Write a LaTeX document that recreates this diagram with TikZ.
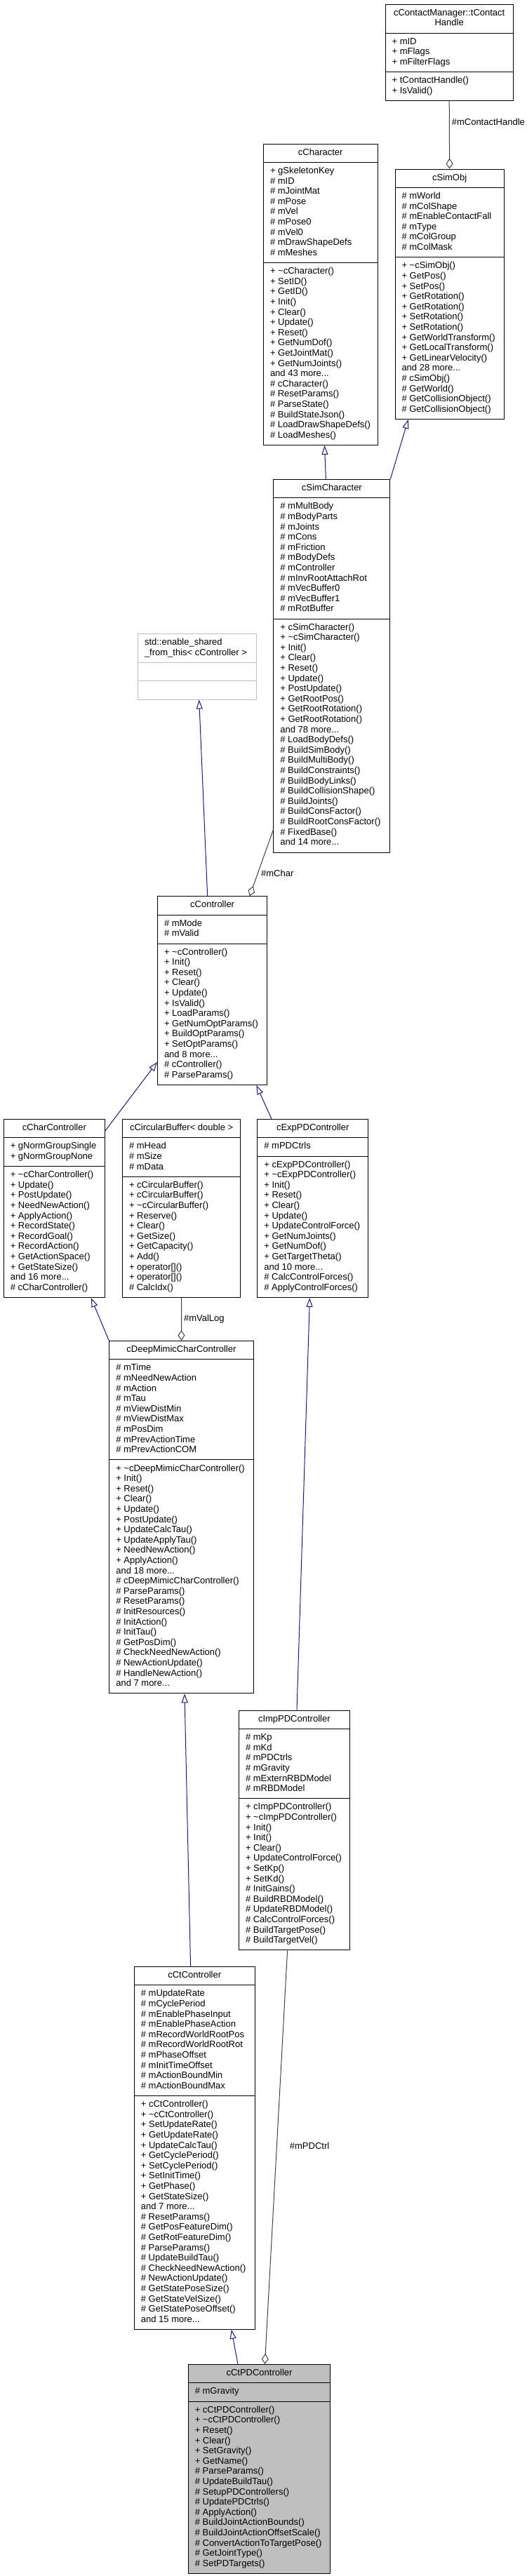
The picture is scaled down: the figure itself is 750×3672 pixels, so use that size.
\documentclass[tikz,border=0pt]{standalone}
\usepackage{fontspec}
\setmainfont{Liberation Sans}
\usetikzlibrary{arrows.meta}
\usetikzlibrary{shapes.multipart}

\definecolor{edgeblue}{HTML}{191970}
\definecolor{edgegrey}{HTML}{404040}
\definecolor{nodegrey}{HTML}{BFBFBF}
\newcommand{\tld}{\textasciitilde}

\begin{document}
\begin{tikzpicture}[x=1pt,y=-1pt,
  cls/.style={draw=black,fill=white,line width=1pt,rectangle split,rectangle split parts=3,
    rectangle split part align={center,left,left},
    anchor=north west,align=left,inner xsep=9.5pt,inner ysep=5.35pt,
    font=\fontsize{13}{14.6}\selectfont},
  isa/.style={draw=edgeblue,line width=1pt,-{Triangle[open,length=13pt,width=9pt]}},
  hasa/.style={draw=edgegrey,line width=1pt,-{Diamond[open,length=15pt,width=10pt]}},
  lbl/.style={anchor=west,inner sep=2pt,font=\fontsize{13}{14.6}\selectfont}]

\useasboundingbox (0,0) rectangle (750,3672);

\node[cls,minimum width=182.2pt] (handle) at (548.6,5.7)
  {\begin{tabular}{@{}c@{}}cContactManager::tContact\\Handle\end{tabular}
   \nodepart{two}\strut + mID\\+ mFlags\\+ mFilterFlags\strut
   \nodepart{three}\strut + tContactHandle()\\+ IsValid()\strut};

\node[cls,minimum width=162.5pt] (character) at (375,204.7)
  {\strut cCharacter\strut
   \nodepart{two}\strut + gSkeletonKey\\\# mID\\\# mJointMat\\\# mPose\\\# mVel\\\# mPose0\\\# mVel0\\\# mDrawShapeDefs\\\# mMeshes\strut
   \nodepart{three}\strut + \tld cCharacter()\\+ SetID()\\+ GetID()\\+ Init()\\+ Clear()\\+ Update()\\+ Reset()\\+ GetNumDof()\\+ GetJointMat()\\+ GetNumJoints()\\and 43 more...\\\# cCharacter()\\\# ResetParams()\\\# ParseState()\\\# BuildStateJson()\\\# LoadDrawShapeDefs()\\\# LoadMeshes()\strut};

\node[cls,minimum width=155.3pt] (simobj) at (562.5,240.7)
  {\strut cSimObj\strut
   \nodepart{two}\strut\# mWorld\\\# mColShape\\\# mEnableContactFall\\\# mType\\\# mColGroup\\\# mColMask\strut
   \nodepart{three}\strut + \tld cSimObj()\\+ GetPos()\\+ SetPos()\\+ GetRotation()\\+ GetRotation()\\+ SetRotation()\\+ SetRotation()\\+ GetWorldTransform()\\+ GetLocalTransform()\\+ GetLinearVelocity()\\and 28 more...\\\# cSimObj()\\\# GetWorld()\\\# GetCollisionObject()\\\# GetCollisionObject()\strut};

\node[cls,minimum width=165.9pt] (simchar) at (389.4,683)
  {\strut cSimCharacter\strut
   \nodepart{two}\strut\# mMultBody\\\# mBodyParts\\\# mJoints\\\# mCons\\\# mFriction\\\# mBodyDefs\\\# mController\\\# mInvRootAttachRot\\\# mVecBuffer0\\\# mVecBuffer1\\\# mRotBuffer\strut
   \nodepart{three}\strut + cSimCharacter()\\+ \tld cSimCharacter()\\+ Init()\\+ Clear()\\+ Reset()\\+ Update()\\+ PostUpdate()\\+ GetRootPos()\\+ GetRootRotation()\\+ GetRootRotation()\\and 78 more...\\\# LoadBodyDefs()\\\# BuildSimBody()\\\# BuildMultiBody()\\\# BuildConstraints()\\\# BuildBodyLinks()\\\# BuildCollisionShape()\\\# BuildJoints()\\\# BuildConsFactor()\\\# BuildRootConsFactor()\\\# FixedBase()\\and 14 more...\strut};

\node[cls,draw=nodegrey,rectangle split part align={left,left,left},minimum width=169.4pt] (enable) at (196,903)
  {\strut std::enable\_shared\\\_from\_this< cController >\strut
   \nodepart{two}\strut
   \nodepart{three}\strut};

\node[cls,minimum width=156.3pt] (controller) at (224,1277.3)
  {\strut cController\strut
   \nodepart{two}\strut\# mMode\\\# mValid\strut
   \nodepart{three}\strut + \tld cController()\\+ Init()\\+ Reset()\\+ Clear()\\+ Update()\\+ IsValid()\\+ LoadParams()\\+ GetNumOptParams()\\+ BuildOptParams()\\+ SetOptParams()\\and 8 more...\\\# cController()\\\# ParseParams()\strut};

\node[cls,minimum width=144.2pt] (charctrl) at (4.8,1595)
  {\strut cCharController\strut
   \nodepart{two}\strut + gNormGroupSingle\\+ gNormGroupNone\strut
   \nodepart{three}\strut + \tld cCharController()\\+ Update()\\+ PostUpdate()\\+ NeedNewAction()\\+ ApplyAction()\\+ RecordState()\\+ RecordGoal()\\+ RecordAction()\\+ GetActionSpace()\\+ GetStateSize()\\and 16 more...\\\# cCharController()\strut};

\node[cls,minimum width=168.3pt] (circbuf) at (174,1595)
  {\strut cCircularBuffer< double >\strut
   \nodepart{two}\strut\# mHead\\\# mSize\\\# mData\strut
   \nodepart{three}\strut + cCircularBuffer()\\+ cCircularBuffer()\\+ \tld cCircularBuffer()\\+ Reserve()\\+ Clear()\\+ GetSize()\\+ GetCapacity()\\+ Add()\\+ operator[]()\\+ operator[]()\\\# CalcIdx()\strut};

\node[cls,minimum width=157.6pt] (exppd) at (366.4,1595)
  {\strut cExpPDController\strut
   \nodepart{two}\strut\# mPDCtrls\strut
   \nodepart{three}\strut + cExpPDController()\\+ \tld cExpPDController()\\+ Init()\\+ Reset()\\+ Clear()\\+ Update()\\+ UpdateControlForce()\\+ GetNumJoints()\\+ GetNumDof()\\+ GetTargetTheta()\\and 10 more...\\\# CalcControlForces()\\\# ApplyControlForces()\strut};

\node[cls,minimum width=205.3pt] (deepmimic) at (155.3,1911)
  {\strut cDeepMimicCharController\strut
   \nodepart{two}\strut\# mTime\\\# mNeedNewAction\\\# mAction\\\# mTau\\\# mViewDistMin\\\# mViewDistMax\\\# mPosDim\\\# mPrevActionTime\\\# mPrevActionCOM\strut
   \nodepart{three}\strut + \tld cDeepMimicCharController()\\+ Init()\\+ Reset()\\+ Clear()\\+ Update()\\+ PostUpdate()\\+ UpdateCalcTau()\\+ UpdateApplyTau()\\+ NeedNewAction()\\+ ApplyAction()\\and 18 more...\\\# cDeepMimicCharController()\\\# ParseParams()\\\# ResetParams()\\\# InitResources()\\\# InitAction()\\\# InitTau()\\\# GetPosDim()\\\# CheckNeedNewAction()\\\# NewActionUpdate()\\\# HandleNewAction()\\and 7 more...\strut};

\node[cls,minimum width=157.6pt] (imppd) at (340,2437.7)
  {\strut cImpPDController\strut
   \nodepart{two}\strut\# mKp\\\# mKd\\\# mPDCtrls\\\# mGravity\\\# mExternRBDModel\\\# mRBDModel\strut
   \nodepart{three}\strut + cImpPDController()\\+ \tld cImpPDController()\\+ Init()\\+ Init()\\+ Clear()\\+ UpdateControlForce()\\+ SetKp()\\+ SetKd()\\\# InitGains()\\\# BuildRBDModel()\\\# UpdateRBDModel()\\\# CalcControlForces()\\\# BuildTargetPose()\\\# BuildTargetVel()\strut};

\node[cls,minimum width=171.6pt] (ctctrl) at (190.9,2803)
  {\strut cCtController\strut
   \nodepart{two}\strut\# mUpdateRate\\\# mCyclePeriod\\\# mEnablePhaseInput\\\# mEnablePhaseAction\\\# mRecordWorldRootPos\\\# mRecordWorldRootRot\\\# mPhaseOffset\\\# mInitTimeOffset\\\# mActionBoundMin\\\# mActionBoundMax\strut
   \nodepart{three}\strut + cCtController()\\+ \tld cCtController()\\+ SetUpdateRate()\\+ GetUpdateRate()\\+ UpdateCalcTau()\\+ GetCyclePeriod()\\+ SetCyclePeriod()\\+ SetInitTime()\\+ GetPhase()\\+ GetStateSize()\\and 7 more...\\\# ResetParams()\\\# GetPosFeatureDim()\\\# GetRotFeatureDim()\\\# ParseParams()\\\# UpdateBuildTau()\\\# CheckNeedNewAction()\\\# NewActionUpdate()\\\# GetStatePoseSize()\\\# GetStateVelSize()\\\# GetStatePoseOffset()\\and 15 more...\strut};

\node[cls,fill=nodegrey,minimum width=202.4pt] (ctpd) at (267.8,3370)
  {\strut cCtPDController\strut
   \nodepart{two}\strut\# mGravity\strut
   \nodepart{three}\strut + cCtPDController()\\+ \tld cCtPDController()\\+ Reset()\\+ Clear()\\+ SetGravity()\\+ GetName()\\\# ParseParams()\\\# UpdateBuildTau()\\\# SetupPDControllers()\\\# UpdatePDCtrls()\\\# ApplyAction()\\\# BuildJointActionBounds()\\\# BuildJointActionOffsetScale()\\\# ConvertActionToTargetPose()\\\# GetJointType()\\\# SetPDTargets()\strut};

\draw[hasa] (handle.south) -- node[lbl,pos=0.31,xshift=1pt] (lcontact) {\#mContactHandle} (simobj.north);
\draw[isa] (simchar.north east) -- ([xshift=19.2pt]simobj.south west);
\draw[isa] ([xshift=75pt]simchar.north west) -- ([xshift=87.5pt]character.south west);
\draw[isa] ([xshift=71.7pt]controller.north west) -- ([xshift=87.7pt]enable.south west);
\draw[hasa] ([yshift=32.7pt]simchar.south west) -- node[lbl,pos=0.66,xshift=2.4pt] (lchar) {\#mChar} ([xshift=131.8pt]controller.north west);
\draw[isa] ([yshift=-16.7pt]charctrl.north east) -- ([yshift=33pt]controller.south west);
\draw[isa] ([xshift=20.6pt]exppd.north west) -- ([xshift=141.4pt]controller.south west);
\draw[isa] (deepmimic.north west) -- ([xshift=125pt]charctrl.south west);
\draw[hasa] (circbuf.south) -- node[lbl,pos=0.5,xshift=1pt] (lvallog) {\#mValLog} (deepmimic.north);
\draw[isa] ([xshift=83pt]imppd.north west) -- ([xshift=75pt]exppd.south west);
\draw[isa] ([xshift=80.7pt]ctctrl.north west) -- ([xshift=107.7pt]deepmimic.south west);
\draw[hasa] ([xshift=69.6pt]imppd.south west) -- node[lbl,pos=0.472,xshift=16pt] (lpdctrl) {\#mPDCtrl} ([xshift=109.6pt]ctpd.north west);
\draw[isa] ([xshift=71.2pt]ctpd.north west) -- ([xshift=138.9pt]ctctrl.south west);
\end{tikzpicture}
\end{document}
